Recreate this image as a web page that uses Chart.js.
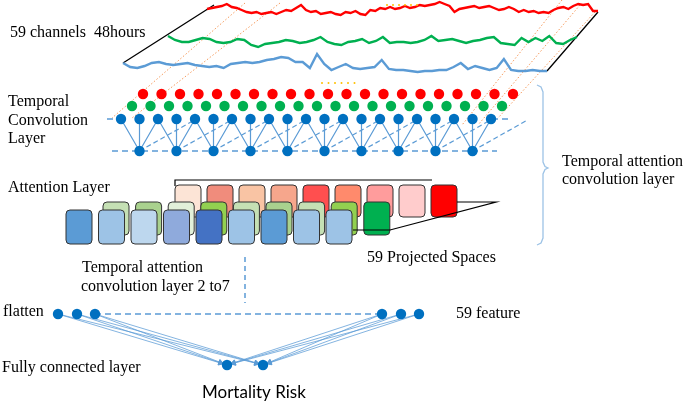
<!DOCTYPE html>
<html>
<head>
<meta charset="utf-8">
<script src="https://cdn.jsdelivr.net/npm/chart.js@4.4.0/dist/chart.umd.min.js"></script>
<style>
  html, body { margin: 0; padding: 0; background: #fff; }
  canvas { display: block; }
</style>
</head>
<body>
<canvas id="diagram" width="685" height="403"></canvas>
<script>
// --- data (diagram units, 1 unit = 1 px, y grows downward) ---
const redSeries = [9, 8, 7, 6, 4, 7, 8, 10, 12, 13, 12, 14, 13, 12, 14, 12, 10, 11, 8, 5,
    10, 12, 11, 14, 13, 12, 14, 15, 12, 13, 11, 14, 15, 10, 11, 8, 9, 7, 9, 8,
    6, 8, 7, 5, 6, 5, 4, 2, 4, 6, 12, 9, 8, 7, 6, 8, 7, 6, 8, 10,
    9, 7, 9, 12, 10, 12, 11, 13, 12, 13, 10, 8, 7, 9, 6, 4, 5, 4, 11, 11];
const greenSeries = [36, 40, 42, 42, 40, 38, 39, 42, 43, 42, 39, 40, 45, 47, 44, 43, 42, 40, 41, 43,
    42, 40, 37, 42, 44, 45, 42, 41, 39, 43, 41, 37, 43, 42, 42, 43, 42, 40, 36, 41,
    40, 39, 41, 43, 41, 40, 38, 37, 43, 44, 45, 38, 42, 38, 41, 36, 43, 44, 40, 37];
const blueSeries = [63, 67, 68, 66, 63, 62, 64, 65, 64, 63, 65, 66, 67, 66, 68, 64, 63, 62, 63, 62,
    60, 59, 57, 58, 62, 62, 68, 54, 64, 70, 67, 64, 68, 69, 68, 67, 60, 69, 70, 70,
    71, 72, 71, 71, 70, 70, 67, 63, 69, 66, 68, 70, 68, 59, 70, 71, 71, 70, 71, 71];

const redBoxColors = ['#fce4d6', '#f08c7c', '#f9c4a4', '#f6a68c', '#ff4f4f', '#ff8a6c', '#ff9c9c', '#ffcccc', '#ff0000'];
const greenBoxColors = ['#c5e0b4', '#a9d18e', '#e2f0d9', '#92d050', '#c5e0b4', '#a9d18e', '#c5e0b4', '#92d050', '#00b050'];
const blueBoxColors = ['#5b9bd5', '#9dc3e6', '#bdd7ee', '#8faadc', '#4472c4', '#9dc3e6', '#5b9bd5', '#9dc3e6', '#9dc3e6'];

const convNodeCount = 21;
const poolNodeCount = 10;
const flattenX = [58, 77, 95, 382, 401, 419];
const outputX = [227, 263];

// --- layout ---
const W = 685, H = 403;
const rowY = { red: 94, green: 106, blue: 119, pool: 151 };
const rowX0 = { red: 143, green: 132, blue: 121 };
const nodeGap = 18.5;
const flattenY = 314, outputY = 365;

const boxRows = [
    { colors: redBoxColors, x0: 175, gap: 32, y: 185, w: 26, h: 32 },
    { colors: greenBoxColors, x0: 103, gap: 32.6, y: 202, w: 26, h: 33 },
    { colors: blueBoxColors, x0: 66, gap: 32.5, y: 210, w: 26, h: 34 }
];

const labels = [
    { t: '59 channels  48hours', x: 10, y: 37 },
    { t: 'Temporal', x: 8, y: 106 },
    { t: 'Convolution', x: 8, y: 125 },
    { t: 'Layer', x: 8, y: 143 },
    { t: 'Attention Layer', x: 8, y: 192 },
    { t: 'Temporal attention', x: 562, y: 166 },
    { t: 'convolution layer', x: 562, y: 184 },
    { t: '59 Projected Spaces', x: 367, y: 262 },
    { t: 'Temporal attention', x: 82, y: 272 },
    { t: 'convolution layer 2 to7', x: 81, y: 291 },
    { t: 'flatten', x: 3, y: 316 },
    { t: '59 feature', x: 456, y: 318 },
    { t: 'Fully connected layer', x: 2, y: 372 },
    { t: 'Mortality Risk', x: 202, y: 398, font: '17px Lato' }
];

function spread(values, x0, x1) {
    return values.map((v, i) => ({ x: x0 + (x1 - x0) * i / (values.length - 1), y: v }));
}
function row(name, n) {
    const pts = [];
    for (let i = 0; i < n; i++) pts.push({ x: rowX0[name] + i * nodeGap, y: rowY[name] });
    return pts;
}
function segments(list) {
    const out = [];
    list.forEach(s => { out.push(...s, { x: s[0].x, y: null }); });
    return out;
}
function lineSet(data, color, width, dash, order) {
    return {
        type: 'scatter', data, showLine: true, borderColor: color, borderWidth: width,
        borderDash: dash || [], pointRadius: 0, spanGaps: false, order: order || 5
    };
}
function dotSet(data, color, r) {
    return { type: 'scatter', data, backgroundColor: color, borderWidth: 0, pointRadius: r, order: 1 };
}

const blueNodes = row('blue', convNodeCount);
const poolNodes = [];
for (let j = 0; j < poolNodeCount; j++) poolNodes.push({ x: blueNodes[2 * j + 1].x, y: rowY.pool });

const convLinks = [], dilatedLinks = [];
poolNodes.forEach((p, j) => {
    [2 * j, 2 * j + 1, 2 * j + 2].forEach(k => convLinks.push([p, blueNodes[k]]));
    dilatedLinks.push([p, { x: p.x + 55, y: rowY.blue + 1 }]);
});

const arrowSets = [];
flattenX.forEach(fx => {
    outputX.forEach(ox => {
        const dx = ox - fx, dy = outputY - flattenY, len = Math.hypot(dx, dy);
        const end = { x: ox - 7 * dx / len, y: outputY - 7 * dy / len };
        const rot = Math.atan2(dx, -dy) * 180 / Math.PI;
        arrowSets.push({
            type: 'scatter', data: [{ x: fx, y: flattenY }, end], showLine: true,
            borderColor: 'rgba(91,155,213,0.75)', borderWidth: 1,
            pointRadius: [0, 3], pointStyle: 'triangle', pointRotation: [0, rot],
            backgroundColor: 'rgba(91,155,213,0.9)', order: 4
        });
    });
});

const orange = '#f59a5c';
const datasets = [
    lineSet(spread(redSeries, 207, 598), '#ff0000', 2.4),
    lineSet(spread(greenSeries, 168, 577), '#00b050', 2.4),
    lineSet(spread(blueSeries, 123, 547), '#5b9bd5', 2.4),
    lineSet(segments([[{ x: 123, y: 63 }, { x: 214, y: 5 }], [{ x: 547, y: 71 }, { x: 598, y: 12 }]]), '#000', 1.3),
    lineSet(segments([
        [{ x: 245, y: 3 }, { x: 112, y: 118 }],
        [{ x: 280, y: 3 }, { x: 132, y: 118 }],
        [{ x: 562, y: 0 }, { x: 462, y: 125 }],
        [{ x: 580, y: 5 }, { x: 478, y: 125 }],
        [{ x: 595, y: 12 }, { x: 498, y: 118 }]
    ]), orange, 1, [1.5, 2], 8),
    dotSet([387, 393, 399, 405, 411, 417].map(x => ({ x, y: 5 })), '#ffc000', 1),
    dotSet([322, 328.5, 335, 341.5, 348, 354.5].map(x => ({ x, y: 83 })), '#ffc000', 1),
    dotSet(row('red', convNodeCount), '#ff0000', 5.2),
    dotSet(row('green', convNodeCount), '#00b050', 5.2),
    dotSet(blueNodes, '#0070c0', 5.2),
    dotSet(poolNodes, '#0070c0', 5.2),
    lineSet(segments(convLinks), '#5b9bd5', 1.2),
    lineSet(segments(dilatedLinks), '#5b9bd5', 1.2, [5, 3]),
    lineSet(segments([
        [{ x: 107, y: rowY.blue }, { x: 121, y: rowY.blue }],
        [{ x: 492, y: rowY.blue }, { x: 509, y: rowY.blue }],
        [{ x: 112, y: rowY.pool }, { x: 497, y: rowY.pool }]
    ]), '#5b9bd5', 1.5, [6, 4]),
    lineSet([{ x: 537, y: 85 }, { x: 541, y: 87 }, { x: 543, y: 92 }, { x: 543, y: 162 }, { x: 545, y: 166.5 },
        { x: 548, y: 168 }, { x: 545, y: 169.5 }, { x: 543, y: 174 }, { x: 543, y: 238 }, { x: 541, y: 243 },
        { x: 537, y: 245 }], '#9dc3e6', 1.3),
    lineSet([{ x: 175, y: 186 }, { x: 175, y: 180 }, { x: 432, y: 180 }], '#000', 1.2),
    lineSet([{ x: 457, y: 202 }, { x: 496, y: 202 }, { x: 390, y: 230 }, { x: 353, y: 230 }], '#000', 1.2, [], 2),
    lineSet([{ x: 245, y: 257 }, { x: 245, y: 303 }], '#5b9bd5', 1.5, [5, 4]),
    lineSet([{ x: flattenX[2], y: flattenY }, { x: flattenX[3], y: flattenY }], '#5b9bd5', 1.5, [6, 4]),
    ...arrowSets,
    dotSet(flattenX.map(x => ({ x, y: flattenY })), '#0070c0', 5.2),
    dotSet(outputX.map(x => ({ x, y: outputY })), '#0070c0', 5.2)
];

const boxPlugin = {
    id: 'boxes',
    beforeDatasetsDraw(chart) {
        const { ctx, scales: { x, y } } = chart;
        ctx.save();
        boxRows.forEach(r => {
            r.colors.forEach((c, i) => {
                const bx = x.getPixelForValue(r.x0 + i * r.gap);
                const by = y.getPixelForValue(r.y);
                ctx.beginPath();
                ctx.roundRect(bx, by, r.w, r.h, 4);
                ctx.fillStyle = c;
                ctx.fill();
                ctx.lineWidth = 1;
                ctx.strokeStyle = '#333';
                ctx.stroke();
            });
        });
        ctx.restore();
    }
};

const textPlugin = {
    id: 'texts',
    afterDatasetsDraw(chart) {
        const { ctx, scales: { x, y } } = chart;
        ctx.save();
        ctx.fillStyle = '#000';
        ctx.textBaseline = 'alphabetic';
        labels.forEach(l => {
            ctx.font = l.font || '16px "Liberation Serif"';
            ctx.fillText(l.t, x.getPixelForValue(l.x), y.getPixelForValue(l.y));
        });
        ctx.restore();
    }
};

new Chart(document.getElementById('diagram'), {
    type: 'scatter',
    data: { datasets },
    options: {
        responsive: false,
        animation: false,
        layout: { padding: 0, autoPadding: false },
        scales: {
            x: { type: 'linear', min: 0, max: W, display: false },
            y: { type: 'linear', min: 0, max: H, reverse: true, display: false }
        },
        plugins: { legend: { display: false }, tooltip: { enabled: false } }
    },
    plugins: [boxPlugin, textPlugin]
});
</script>
</body>
</html>
